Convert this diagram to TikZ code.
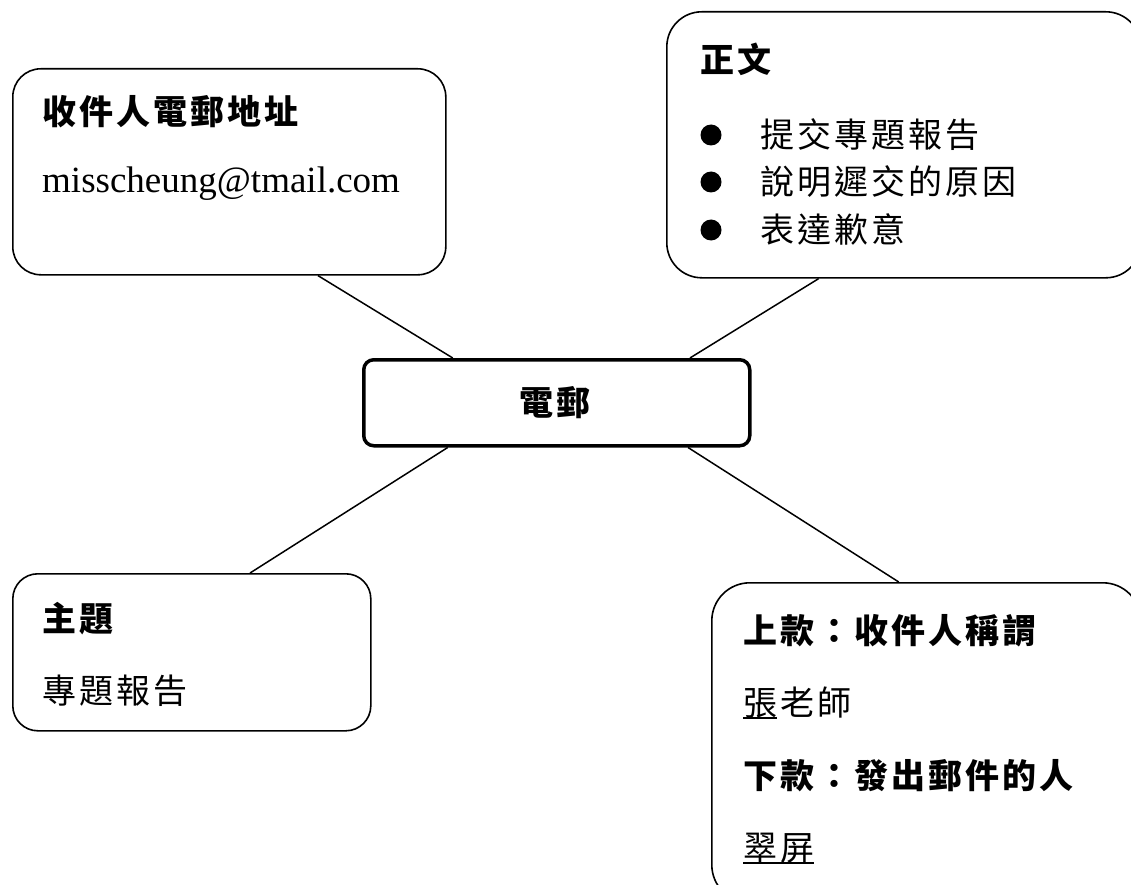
\documentclass[tikz,border=0pt]{standalone}
\usepackage{fontspec}
\setmainfont{Liberation Serif}
\newfontfamily\cjk{Noto Sans CJK TC}
\usetikzlibrary{calc}
\def\cjkspaced#1{\cjkspacedaux#1\relax}
\def\cjkspacedaux#1{\ifx#1\relax\else#1\kern3pt\expandafter\cjkspacedaux\fi}
\tikzset{
  box/.style={draw, line width=1.6pt, inner sep=0pt, anchor=north west},
  mainbox/.style={draw, line width=3.5pt, rounded corners=10pt, inner sep=0pt, anchor=north west,
    minimum width=386pt, minimum height=86pt},
  link/.style={line width=1.5pt},
  txt/.style={anchor=base west, inner sep=0pt, font=\cjk\fontsize{34}{40}\selectfont},
  head/.style={txt, font=\cjk\bfseries\fontsize{34}{40}\selectfont},
  latin/.style={anchor=base west, inner sep=0pt, font=\fontsize{37}{44}\selectfont},
}
\begin{document}
\begin{tikzpicture}[x=1pt,y=-1pt]
\clip (0,0) rectangle (1131,885);
% boxes
\node[box, rounded corners=28pt, minimum width=433pt, minimum height=206pt] (tl) at (12,68) {};
\node[box, rounded corners=35pt, minimum width=474pt, minimum height=266pt] (tr) at (666,11) {};
\node[mainbox] (c) at (362,358) {};
\node[box, rounded corners=25pt, minimum width=358pt, minimum height=157pt] (bl) at (12,573) {};
\node[box, rounded corners=38pt, minimum width=429pt, minimum height=320pt] (br) at (711,582) {};
% connectors
\draw[link] ($(tl.south west)!0.704!(tl.south east)$) -- ($(c.north west)!0.233!(c.north east)$);
\draw[link] ($(tr.south west)!0.321!(tr.south east)$) -- ($(c.north west)!0.842!(c.north east)$);
\draw[link] ($(c.south west)!0.22!(c.south east)$) -- ($(bl.north west)!0.662!(bl.north east)$);
\draw[link] ($(c.south west)!0.837!(c.south east)$) -- ($(br.north west)!0.436!(br.north east)$);
% center text
\node[inner sep=0pt, font=\cjk\bfseries\fontsize{34}{40}\selectfont] (ct) at (c.center) {\cjkspaced{電郵}};
% top-left
\node[head] (t1) at (42,125) {\cjkspaced{收件人電郵地址}};
\node[latin] (t2) at (42,193) {misscheung@tmail.com};
% top-right
\node[head] (r1) at (700,73) {\cjkspaced{正文}};
\fill (711,135) circle (10.5pt);
\fill (711,182) circle (10.5pt);
\fill (711,230) circle (10.5pt);
\node[txt] (r2) at (760,148) {\cjkspaced{提交專題報告}};
\node[txt] (r3) at (760,195) {\cjkspaced{說明遲交的原因}};
\node[txt] (r4) at (760,243) {\cjkspaced{表達歉意}};
% bottom-left
\node[head] (b1) at (42,631) {\cjkspaced{主題}};
\node[txt] (b2) at (42,703) {\cjkspaced{專題報告}};
% bottom-right
\node[head] (s1) at (743,643) {\cjkspaced{上款：收件人稱謂}};
\node[txt] (s2) at (743,715) {張};
\node[txt] (s3) at (780,715) {\cjkspaced{老師}};
\draw[line width=1.3pt] (s2.south west) -- (s2.south east);
\node[head] (s4) at (743,788) {\cjkspaced{下款：發出郵件的人}};
\node[txt] (s5) at (743,860) {\cjkspaced{翠屏}};
\draw[line width=1.3pt] (s5.south west) -- ($(s5.south east)+(-3,0)$);
\end{tikzpicture}
\end{document}
